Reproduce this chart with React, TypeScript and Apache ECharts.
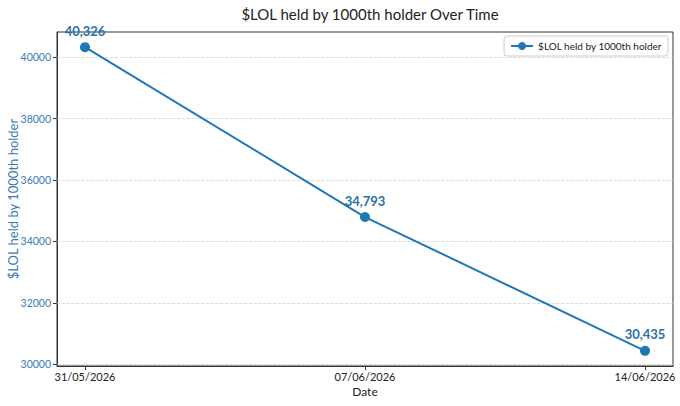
import React, { useEffect, useRef } from "react";
import * as echarts from "echarts";

const dates = ["2026-05-31", "2026-06-07", "2026-06-14"];
const values = [40326, 34793, 30435];
const yTicks = [30000, 32000, 34000, 36000, 38000, 40000];
const seriesName = "$LOL held by 1000th holder";
const titleText = "$LOL held by 1000th holder Over Time";

const DAY = 86400000;
const FONT = "Lato";

function toTs(d: string) {
  const [y, m, dd] = d.split("-").map(Number);
  return Date.UTC(y, m - 1, dd);
}
function fmtDate(ts: number) {
  const d = new Date(ts);
  const dd = String(d.getUTCDate()).padStart(2, "0");
  const mm = String(d.getUTCMonth() + 1).padStart(2, "0");
  return `${dd}/${mm}/${d.getUTCFullYear()}`;
}

export default function App() {
  const ref = useRef<HTMLDivElement>(null);
  useEffect(() => {
    if (!ref.current) return;
    const chart = echarts.init(ref.current, null, { renderer: "svg" });
    const ts = dates.map(toTs);
    const xMin = ts[0] - 0.7 * DAY;
    const xMax = ts[ts.length - 1] + 0.7 * DAY;
    const vMin = Math.min(...values);
    const vMax = Math.max(...values);
    const pad = (vMax - vMin) * 0.05;
    chart.setOption({
      animation: false,
      backgroundColor: "#fff",
      textStyle: { fontFamily: FONT },
      title: {
        text: titleText,
        left: 365,
        textAlign: "center",
        top: 1,
        textStyle: { fontFamily: FONT, fontSize: 15, fontWeight: "normal", color: "#222" },
      },
      legend: {
        show: true,
        right: 12,
        top: 36,
        orient: "vertical",
        backgroundColor: "#fff",
        borderColor: "#ccc",
        borderWidth: 1,
        borderRadius: 3,
        padding: [5, 6, 5, 6],
        itemWidth: 22,
        itemHeight: 10,
        itemGap: 4,
        textStyle: { fontFamily: FONT, fontSize: 10, color: "#222" },
      },
      grid: {
        left: 57,
        right: 7,
        top: 32,
        bottom: 40,
        containLabel: false,
        outerBoundsMode: "none",
        show: true,
        borderColor: "#333",
        borderWidth: 1,
        backgroundColor: "transparent",
      },
      xAxis: {
        type: "value",
        min: xMin,
        max: xMax,
        name: "Date",
        nameLocation: "middle",
        nameGap: 19,
        nameMoveOverlap: false,
        nameTextStyle: { fontFamily: FONT, fontSize: 12, color: "#222" },
        axisLine: { show: true, lineStyle: { color: "#333", width: 1 } },
        axisTick: { show: true, customValues: ts, length: 4, lineStyle: { color: "#333" } },
        axisLabel: {
          customValues: ts,
          formatter: (v: number) => fmtDate(v),
          fontFamily: FONT,
          fontSize: 11,
          color: "#222",
          margin: 5,
        },
        splitLine: { show: false },
      },
      yAxis: {
        type: "value",
        min: vMin - pad,
        max: vMax + pad,
        name: seriesName,
        nameLocation: "middle",
        nameGap: 38,
        nameMoveOverlap: false,
        nameTextStyle: { fontFamily: FONT, fontSize: 13, color: "#3a7ab5" },
        axisLine: { show: true, lineStyle: { color: "#333", width: 1 } },
        axisTick: { show: true, customValues: yTicks, length: 4, lineStyle: { color: "#333" } },
        axisLabel: {
          customValues: yTicks,
          formatter: (v: number) => String(v),
          fontFamily: FONT,
          fontSize: 10.5,
          color: "#3a7ab5",
          margin: 6,
        },
        splitLine: { show: false },
      },
      series: [
        {
          name: seriesName,
          type: "line",
          data: ts.map((t, i) => [t, values[i]]),
          symbol: "circle",
          symbolSize: 10,
          color: "#1f77b4",
          lineStyle: { width: 2, color: "#1f77b4" },
          itemStyle: { color: "#1f77b4" },
          label: {
            show: true,
            position: "top",
            distance: 5,
            formatter: (p: any) => Number(p.value[1]).toLocaleString("en-US"),
            fontFamily: FONT,
            fontSize: 13,
            fontWeight: "bold",
            color: "#2b6fa8",
          },
          markLine: {
            silent: true,
            symbol: "none",
            label: { show: false },
            lineStyle: { type: "dashed", color: "#d0d0d0", width: 0.8 },
            data: yTicks.map((y) => ({ yAxis: y })),
            z: 1,
          },
          z: 3,
        },
      ],
    });
    return () => chart.dispose();
  }, []);
  return (
    <div
      ref={ref}
      style={{ position: "fixed", left: 0, top: 0, width: 680, height: 406 }}
    />
  );
}
